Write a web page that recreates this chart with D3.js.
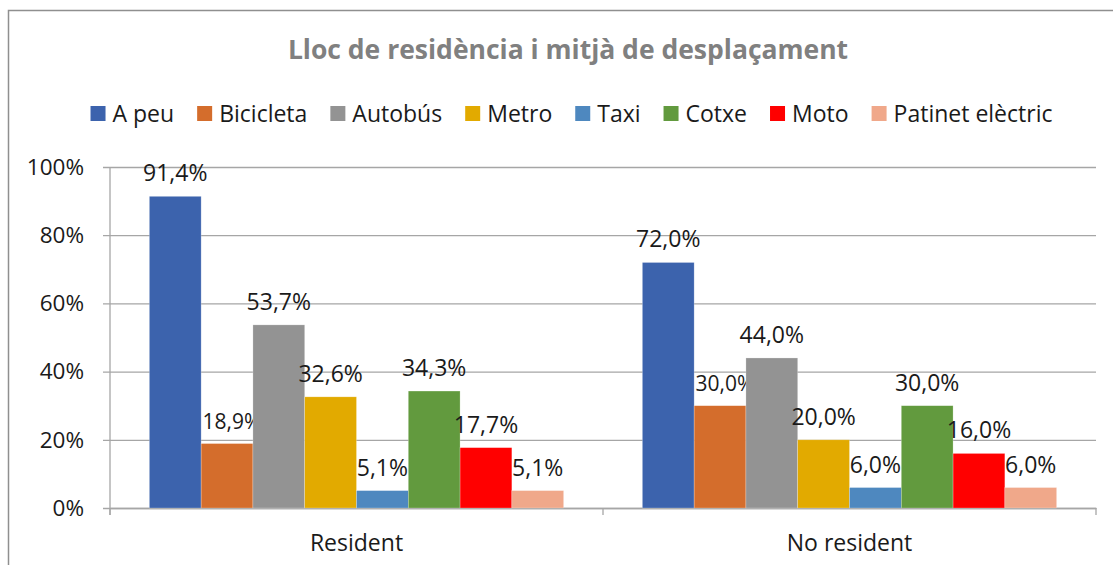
<!DOCTYPE html>
<html><head><meta charset="utf-8">
<script src="https://cdn.jsdelivr.net/npm/d3@7"></script>
<style>
html,body{margin:0;padding:0;background:#fff;}
svg{display:block;font-family:"Open Sans", "Liberation Sans", sans-serif;}
</style></head>
<body>
<svg id="chart" width="1113" height="565"></svg>
<script>
const title = "Lloc de residència i mitjà de desplaçament";
const categories = ["Resident", "No resident"];
const seriesNames = ["A peu", "Bicicleta", "Autobús", "Metro", "Taxi", "Cotxe", "Moto", "Patinet elèctric"];
const seriesColors = ["#3c63ad", "#d46d2c", "#939393", "#e2aa00", "#4e88bf", "#629a3e", "#ff0000", "#f0a88a"];
const residentValues = [0.914, 0.189, 0.537, 0.326, 0.051, 0.343, 0.177, 0.051];
const noResidentValues = [0.720, 0.300, 0.440, 0.200, 0.060, 0.300, 0.160, 0.060];
const yTicks = [0, 0.2, 0.4, 0.6, 0.8, 1.0];

const valuesByCategory = [residentValues, noResidentValues];
const FONT = "'Open Sans', 'Liberation Sans', sans-serif";
const TEXT = "#1a1a1a";
const svg = d3.select("#chart");

// chart frame
svg.append("rect").attr("x", 8.5).attr("y", 10.5).attr("width", 1200).attr("height", 700)
  .attr("fill", "#fff").attr("stroke", "#8f8f8f").attr("stroke-width", 1.5);

const plot = {left: 110, right: 1096, top: 167, bottom: 508};
const y = d3.scaleLinear().domain([0, 1]).range([plot.bottom, plot.top]);
const x0 = d3.scaleBand().domain(categories).range([plot.left, plot.right]).padding(0);
const x1 = d3.scaleBand().domain(seriesNames).range([0, x0.bandwidth()]).paddingInner(0).paddingOuter(0.76);
const color = d3.scaleOrdinal().domain(seriesNames).range(seriesColors);

// title
svg.append("text").attr("x", 568).attr("y", 59).attr("text-anchor", "middle")
  .attr("font-size", 26.5).attr("font-weight", "bold").attr("fill", "#808080").text(title);

// legend (sequential layout, centred)
const legend = svg.append("g");
let cx = 0;
seriesNames.forEach((s, i) => {
  const g = legend.append("g").attr("transform", `translate(${cx},0)`);
  g.append("rect").attr("y", 106).attr("width", 15).attr("height", 15).attr("fill", color(s));
  const t = g.append("text").attr("x", 22).attr("y", 122).attr("font-size", 23).attr("fill", TEXT).text(s);
  cx += 22 + t.node().getComputedTextLength() + 23;
});
const legendW = cx - 23;
legend.attr("transform", `translate(${571.5 - legendW / 2},0)`);

// gridlines + y axis
const yAxis = d3.axisLeft(y).tickValues(yTicks).tickFormat(d3.format(".0%"))
  .tickSize(-(plot.right - plot.left)).tickPadding(0);
const ga = svg.append("g").attr("transform", `translate(${plot.left},0)`).call(yAxis);
ga.select(".domain").remove();
ga.selectAll(".tick line").attr("stroke", "#a6a6a6").attr("stroke-width", 1.3).attr("x1", -7);
ga.selectAll(".tick text").attr("x", -26).attr("font-size", 22.5).attr("fill", TEXT)
  .attr("font-family", FONT);
svg.append("line").attr("x1", plot.left).attr("x2", plot.left).attr("y1", plot.top).attr("y2", plot.bottom + 7)
  .attr("stroke", "#a6a6a6").attr("stroke-width", 1.3);

// x axis
const xAxis = d3.axisBottom(x0).tickSize(0).tickPadding(0);
const gx = svg.append("g").attr("transform", `translate(0,${plot.bottom})`).call(xAxis);
gx.select(".domain").attr("stroke", "#a6a6a6").attr("stroke-width", 1.3);
gx.selectAll(".tick text").attr("dy", 0).attr("y", 43).attr("font-size", 23).attr("fill", TEXT)
  .attr("font-family", FONT);
const boundaries = [plot.left, x0(categories[1]), plot.right];
gx.selectAll(".bound").data(boundaries).enter().append("line")
  .attr("x1", d => d).attr("x2", d => d).attr("y1", 0).attr("y2", 7)
  .attr("stroke", "#a6a6a6").attr("stroke-width", 1.3);

// bars
const groups = svg.selectAll(".grp").data(categories).enter().append("g")
  .attr("transform", d => `translate(${x0(d)},0)`);
groups.each(function(cat, ci) {
  const g = d3.select(this);
  const vals = valuesByCategory[ci];
  seriesNames.forEach((s, si) => {
    const v = vals[si];
    g.append("rect").attr("x", x1(s)).attr("width", x1.bandwidth())
      .attr("y", y(v)).attr("height", y(0) - y(v)).attr("fill", color(s))
      .attr("stroke", "#ffffff").attr("stroke-opacity", 0.4).attr("stroke-width", 0.6);
    const small = si === 1;
    g.append("text")
      .attr("x", x1(s) + x1.bandwidth() / 2 + (small ? 5 : 0))
      .attr("y", y(v) - 15)
      .attr("text-anchor", "middle")
      .attr("font-size", small ? 21 : 23)
      .attr("fill", TEXT)
      .text(d3.format(".1%")(v).replace(".", ","));
  });
});
</script>
</body></html>
